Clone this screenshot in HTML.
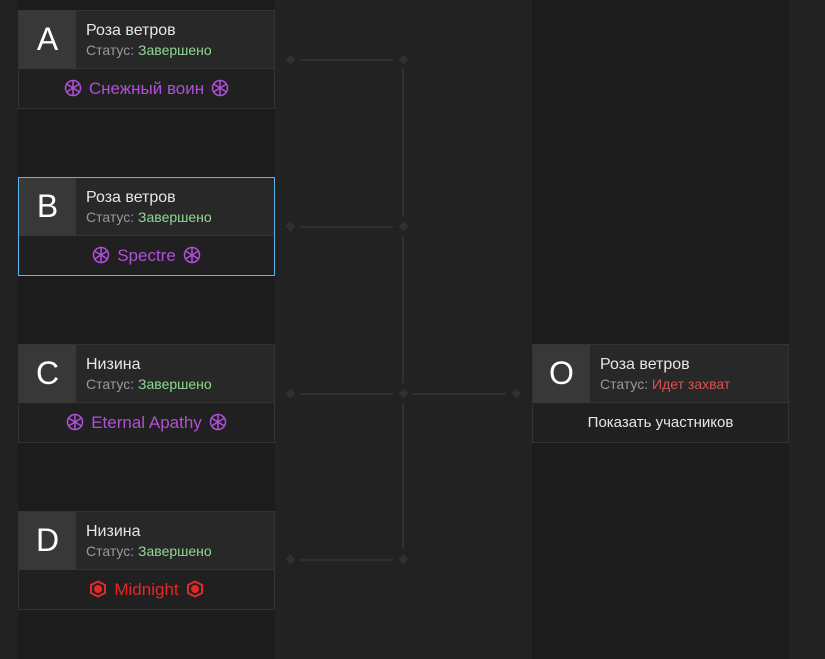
<!DOCTYPE html>
<html><head><meta charset="utf-8"><style>
*{margin:0;padding:0;box-sizing:border-box}
body{width:825px;height:659px;background:#222;position:relative;overflow:hidden;font-family:"Liberation Sans","DejaVu Sans",sans-serif}
.col{position:absolute;top:0;height:659px;background:#1c1c1c}
.card{position:absolute;width:257px;height:99px;border:1px solid #343434;background:#202020}
.top{position:absolute;left:0;top:0;right:0;height:58px;background:#282828;border-bottom:1px solid #343434}
.let{position:absolute;left:0;top:0;width:57px;height:58px;background:#383838;color:#fff;font-size:32px;text-align:center;line-height:56px}
.t1{position:absolute;left:67px;top:11px;color:#e6e6e6;font-size:16px}
.t2{position:absolute;left:67px;top:31px;color:#999;font-size:14px}
.g{color:#8fd98f}.r{color:#d85252}
.bot{position:absolute;left:0;right:0;top:59px;height:38px;text-align:center;line-height:38px;font-size:17px;color:#b04fd8}
.bot svg{vertical-align:-3px;margin:0 7px}
.hl{position:absolute;height:2px;background:#303030}
.vl{position:absolute;width:2px;background:#303030}
.dm{position:absolute;width:7px;height:7px;background:#303030;transform:rotate(45deg)}
</style></head><body>
<div class="col" style="left:18px;width:257px"></div>
<div class="col" style="left:532px;width:257px"></div>

<svg width="0" height="0" style="position:absolute"><defs>
<g id="ic" fill="none" stroke="#b04fd8" stroke-width="1.5"><circle cx="9" cy="9" r="7.5"/><line x1="9" y1="1.5" x2="9" y2="16.5"/><line x1="2.5" y1="5" x2="15.5" y2="13"/><line x1="2.5" y1="13" x2="15.5" y2="5"/></g>
<g id="ir" fill="none" stroke="#e02a2a" stroke-width="2"><path d="M9 1.5 L16 5 L16 13 L9 16.5 L2 13 L2 5 Z"/><circle cx="9" cy="9" r="3" fill="#e02a2a"/></g>
</defs></svg>

<div class="card" style="left:18px;top:10px"><div class="top"><div class="let">A</div><div class="t1">Роза ветров</div><div class="t2">Статус: <span class="g">Завершено</span></div></div>
<div class="bot"><svg width="18" height="18"><use href="#ic"/></svg>Снежный воин<svg width="18" height="18"><use href="#ic"/></svg></div></div>

<div class="card" style="left:18px;top:177px;border-color:#5ab4f0"><div class="top"><div class="let">B</div><div class="t1">Роза ветров</div><div class="t2">Статус: <span class="g">Завершено</span></div></div>
<div class="bot"><svg width="18" height="18"><use href="#ic"/></svg>Spectre<svg width="18" height="18"><use href="#ic"/></svg></div></div>

<div class="card" style="left:18px;top:344px"><div class="top"><div class="let">C</div><div class="t1">Низина</div><div class="t2">Статус: <span class="g">Завершено</span></div></div>
<div class="bot"><svg width="18" height="18"><use href="#ic"/></svg>Eternal Apathy<svg width="18" height="18"><use href="#ic"/></svg></div></div>

<div class="card" style="left:18px;top:511px"><div class="top"><div class="let">D</div><div class="t1">Низина</div><div class="t2">Статус: <span class="g">Завершено</span></div></div>
<div class="bot" style="color:#e02a2a"><svg width="18" height="18"><use href="#ir"/></svg>Midnight<svg width="18" height="18"><use href="#ir"/></svg></div></div>

<div class="card" style="left:532px;top:344px"><div class="top"><div class="let">O</div><div class="t1">Роза ветров</div><div class="t2">Статус: <span class="r">Идет захват</span></div></div>
<div class="bot" style="color:#e6e6e6;font-size:15px">Показать участников</div></div>

<div class="hl" style="left:300px;width:93px;top:59px"></div>
<div class="hl" style="left:300px;width:93px;top:226px"></div>
<div class="hl" style="left:300px;width:93px;top:393px"></div>
<div class="hl" style="left:300px;width:93px;top:559px"></div>
<div class="hl" style="left:413px;width:93px;top:393px"></div>
<div class="vl" style="left:402px;top:69px;height:147px"></div>
<div class="vl" style="left:402px;top:236px;height:147px"></div>
<div class="vl" style="left:402px;top:403px;height:146px"></div>
<div class="dm" style="left:287px;top:56px"></div><div class="dm" style="left:400px;top:56px"></div>
<div class="dm" style="left:287px;top:223px"></div><div class="dm" style="left:400px;top:223px"></div>
<div class="dm" style="left:287px;top:390px"></div><div class="dm" style="left:400px;top:390px"></div>
<div class="dm" style="left:287px;top:556px"></div><div class="dm" style="left:400px;top:556px"></div>
<div class="dm" style="left:513px;top:390px"></div>
</body></html>
